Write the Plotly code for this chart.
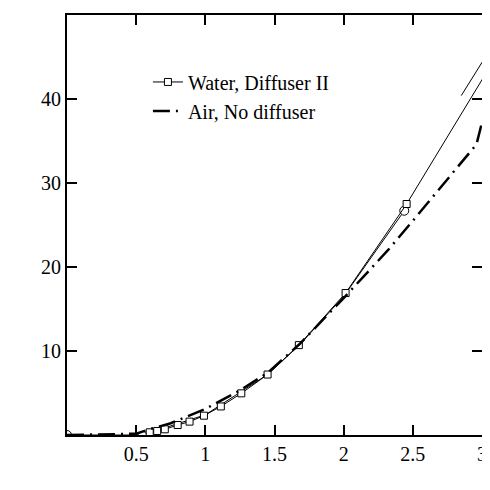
import plotly.graph_objects as go

# Water, Diffuser I (line has a break where nothing is drawn)
d1_line_phi = [0.0, 0.545, 1.0, 1.45, 1.68, 2.0, 2.438, None, 2.85, 3.1]
d1_line_tau = [0.0, 0.0, 2.4, 7.2, 10.7, 16.5, 26.7, None, 40.4, 47.0]
d1_mark_phi = [0.0, 0.545, 2.438]
d1_mark_tau = [0.0, -0.1, 26.7]

# Water, Diffuser II
d2_phi = [0.598, 0.652, 0.707, 0.8, 0.886, 0.99, 1.112, 1.26, 1.45, 1.676, 2.014, 2.455, 3.1]
d2_tau = [0.32, 0.48, 0.68, 1.19, 1.59, 2.3, 3.4, 4.96, 7.2, 10.7, 16.9, 27.5, 45.0]

# Air, No diffuser
air_phi = [0.0, 0.25, 0.5, 0.6, 0.75, 1.0, 1.25, 1.45, 1.68, 2.0, 2.32, 2.5, 2.75, 2.96, 3.0]
air_tau = [0.0, 0.05, 0.15, 0.7, 1.4, 3.1, 5.3, 7.4, 10.8, 16.3, 22.0, 25.5, 30.5, 34.6, 37.2]

x_ticks = [0, 0.5, 1, 1.5, 2, 2.5, 3]
x_ticktext = ["", "0.5", "1", "1.5", "2", "2.5", "3"]
y_ticks = [0, 10, 20, 30, 40, 50]
y_ticktext = ["", "10", "20", "30", "40", "50"]

FONT = "Liberation Serif"
TXT = dict(family=FONT, size=20, color="black")

fig = go.Figure()
fig.add_trace(go.Scatter(x=d1_line_phi, y=d1_line_tau, mode="lines",
                         line=dict(color="black", width=1), showlegend=False))
fig.add_trace(go.Scatter(x=d1_mark_phi, y=d1_mark_tau, mode="markers",
                         marker=dict(symbol="circle", size=9, color="white",
                                     line=dict(color="black", width=1)),
                         showlegend=False))
fig.add_trace(go.Scatter(x=d2_phi, y=d2_tau, mode="lines+markers", name="Water, Diffuser II",
                         line=dict(color="black", width=1),
                         marker=dict(symbol="square", size=7, color="white",
                                     line=dict(color="black", width=1))))
fig.add_trace(go.Scatter(x=air_phi, y=air_tau, mode="lines", name="Air, No diffuser",
                         line=dict(color="black", width=2.5, dash="17px,6px,2px,6px")))

fig.update_xaxes(range=[0, 3], tickmode="array", tickvals=x_ticks, ticktext=x_ticktext,
                 showline=True, linecolor="black", linewidth=2, mirror="allticks",
                 ticks="inside", ticklen=10, tickwidth=1.5, tickcolor="black",
                 showgrid=False, zeroline=False, tickfont=TXT)
fig.update_yaxes(range=[0, 50], tickmode="array", tickvals=y_ticks, ticktext=y_ticktext,
                 showline=True, linecolor="black", linewidth=2, mirror="allticks",
                 ticks="inside", ticklen=10, tickwidth=1.5, tickcolor="black",
                 showgrid=False, zeroline=False, tickfont=TXT)

fig.update_layout(
    width=482, height=482,
    margin=dict(l=59, r=3, t=7, b=55),
    plot_bgcolor="white",
    legend=dict(x=0.195, y=0.887, xanchor="left", yanchor="top", font=TXT),
)

fig.write_html("out.html")
